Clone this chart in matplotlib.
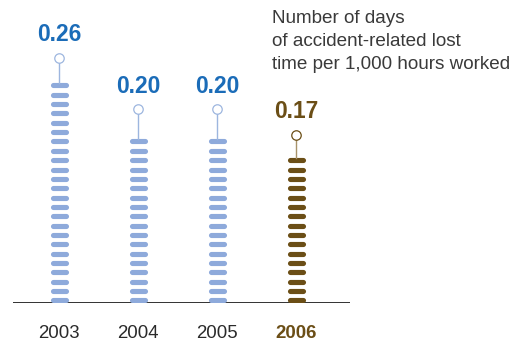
import numpy as np
import matplotlib
matplotlib.use("Agg")
import matplotlib.pyplot as plt

# Lost-time figures per year
years = ["2003", "2004", "2005", "2006"]
values = [0.26, 0.20, 0.20, 0.17]
labels = ["0.26", "0.20", "0.20", "0.17"]
highlight = [False, False, False, True]
caption = ["Number of days", "of accident-related lost", "time per 1,000 hours worked"]

BLUE_DASH = "#8eaadb"
BLUE_TEXT = "#1b6cb8"
BLUE_STEM = "#9db6df"
BROWN_DASH = "#6b4e16"
BROWN_TEXT = "#6b4e16"
BROWN_STEM = "#a8936a"

plt.rcParams["font.family"] = ["Liberation Sans", "DejaVu Sans"]

W, H, DPI = 528, 344, 100
fig = plt.figure(figsize=(W / DPI, H / DPI), dpi=DPI)

base_px = 303.0          # baseline, pixels from top
px_per_unit = 855.0      # vertical scale
x0_px, x1_px = 13.0, 350.0
slot_px, first_px = 79.1, 59.0

ax = fig.add_axes([x0_px / W, (H - base_px) / H, (x1_px - x0_px) / W, base_px / H])
ax.set_xlim((x0_px - first_px) / slot_px, (x1_px - first_px) / slot_px)
ax.set_ylim(0, base_px / px_per_unit)
ax.axis("off")

# baseline
ax.axhline(0, color="#222222", lw=1.3, zorder=1)

pitch = 9.35 / px_per_unit       # spacing between stacked dashes
first = 2.6 / px_per_unit        # centre of lowest dash
dash_half = 6.5 / slot_px        # half length of dash (caps add the rest)
stem_gap = 23.0 / px_per_unit    # circle above top of stack

for i, (v, lab, hl) in enumerate(zip(values, labels, highlight)):
    dash_c = BROWN_DASH if hl else BLUE_DASH
    text_c = BROWN_TEXT if hl else BLUE_TEXT
    stem_c = BROWN_STEM if hl else BLUE_STEM
    centres = np.arange(first, v - 2.4 / px_per_unit, pitch)
    for y in centres:
        ax.plot([i - dash_half, i + dash_half], [y, y], color=dash_c,
                lw=3.7, solid_capstyle="round", zorder=2)
    top = centres[-1] + 2.5 / px_per_unit
    circ = v + stem_gap
    ax.plot([i, i], [top, circ], color=stem_c, lw=1.0, zorder=2)
    ax.plot([i], [circ], marker="o", ms=6.8, mfc="white",
            mec=BROWN_DASH if hl else stem_c, mew=0.9, zorder=3)
    ax.annotate(lab, (i, v), xytext=(0, 28.4), textcoords="offset points",
                ha="center", va="baseline", fontsize=16.4, fontweight="bold",
                color=text_c)
    ax.annotate(years[i], (i, 0), xytext=(0, -25.0), textcoords="offset points",
                ha="center", va="baseline", fontsize=13.4,
                fontweight="bold" if hl else "normal",
                color=BROWN_TEXT if hl else "#2a2a2a", annotation_clip=False)

for k, line in enumerate(caption):
    base = 22.7 + 23.0 * k
    fig.text(271.5 / W, 1 - base / H, line, ha="left", va="baseline",
             fontsize=13.6, color="#3a3a3a")

fig.savefig("out.png", dpi=DPI)
